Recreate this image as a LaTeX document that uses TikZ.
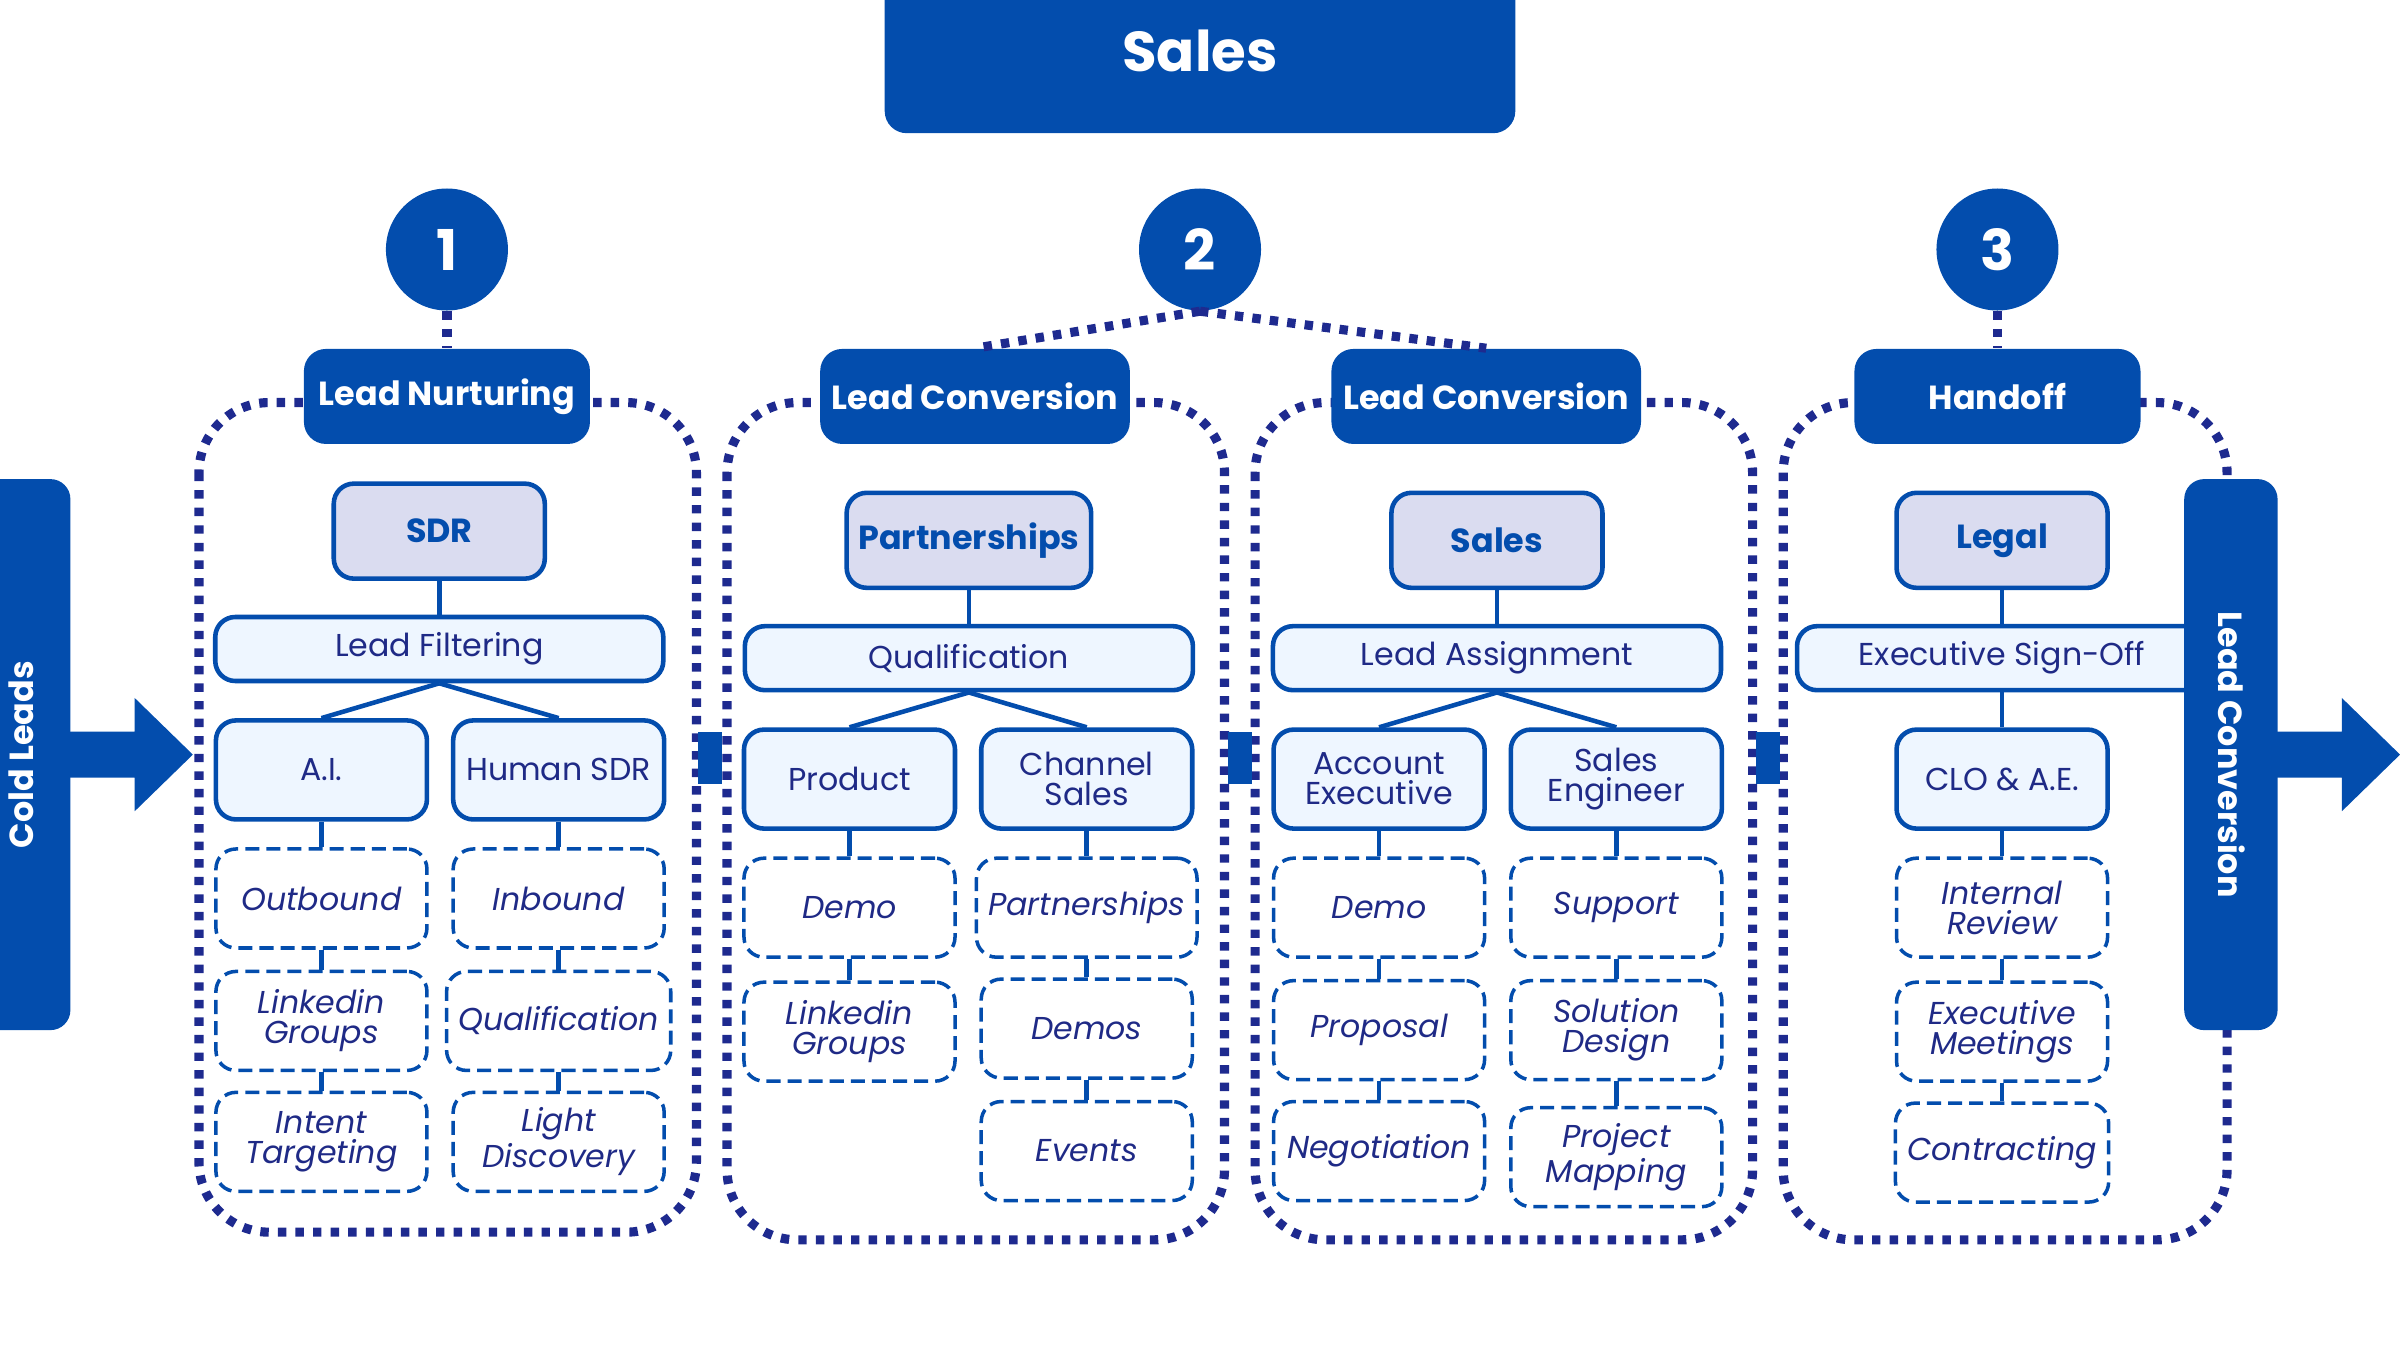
\documentclass[tikz,border=0pt]{standalone}
\usepackage{fontspec}
\setmainfont{Poppins}
\definecolor{salesblue}{HTML}{034DAD}
\definecolor{navy}{HTML}{1F2A86}
\definecolor{dotnavy}{HTML}{1E2A8F}
\definecolor{lavender}{HTML}{DADCF0}
\definecolor{icefill}{HTML}{EEF6FF}
\tikzset{
  panel/.style={draw=dotnavy, line width=2.6pt, dash pattern=on 2.4pt off 2.6pt, rounded corners=0.7cm},
  header/.style={fill=salesblue, rounded corners=0.22cm, minimum width=2.86cm, minimum height=0.95cm, text=white, font=\fontsize{9.5}{11}\selectfont\bfseries},
  stepnum/.style={circle, fill=salesblue, minimum size=1.22cm, text=white, font=\fontsize{16}{18}\selectfont\bfseries},
  rolebox/.style={draw=salesblue, line width=1.3pt, fill=lavender, rounded corners=0.2cm, minimum width=2.11cm, minimum height=0.95cm, text=salesblue, font=\fontsize{9.5}{11}\selectfont\bfseries},
  widebar/.style={draw=salesblue, line width=1.3pt, fill=icefill, rounded corners=0.2cm, minimum width=4.48cm, minimum height=0.64cm, text=navy, font=\fontsize{9}{10}\selectfont},
  subbox/.style={draw=salesblue, line width=1.3pt, fill=icefill, rounded corners=0.2cm, minimum width=2.11cm, minimum height=0.99cm, text=navy, align=center, font=\fontsize{9}{8.5}\selectfont},
  taskbox/.style={draw=salesblue, line width=1pt, dash pattern=on 4pt off 2pt, rounded corners=0.2cm, minimum width=2.11cm, minimum height=0.99cm, text=navy, align=center, font=\fontsize{9}{8.5}\selectfont\itshape},
  link/.style={draw=salesblue, line width=1.3pt},
  dotlink/.style={draw=dotnavy, line width=2.6pt, dash pattern=on 2.4pt off 2.6pt},
  sidebar/.style={fill=salesblue, rounded corners=0.2cm}
}
\begin{document}
\begin{tikzpicture}[x=0.0153cm, y=-0.0153cm]
\useasboundingbox (0,0) rectangle (1568,882);

% title
\fill[salesblue, rounded corners=0.22cm] (578,-20) rectangle (990,87);
\node[text=white, font=\fontsize{16}{18}\selectfont\bfseries] (title) at (784,33) {Sales};

% panels
\draw[panel] (130,263) rectangle (455,805);
\draw[panel] (475,263) rectangle (800,810);
\draw[panel] (820,263) rectangle (1145,810);
\draw[panel] (1165,263) rectangle (1455,810);

% small joints between panels
\fill[salesblue] (456,478) rectangle (472,512);
\fill[salesblue] (802,478) rectangle (818,512);
\fill[salesblue] (1147,478) rectangle (1163,512);

% step circles and headers
\node[stepnum] (n1) at (292,163) {1};
\node[stepnum] (n2) at (784,163) {2};
\node[stepnum] (n3) at (1305,163) {3};
\node[header] (h1) at (292,259) {Lead Nurturing};
\node[header] (h2) at (637,259) {Lead Conversion};
\node[header] (h3) at (971,259) {Lead Conversion};
\node[header] (h4) at (1305,259) {Handoff};
\draw[dotlink] (n1.south) -- (h1.north);
\draw[dotlink] (n2.south) -- (h2.north);
\draw[dotlink] (n2.south) -- (h3.north);
\draw[dotlink] (n3.south) -- (h4.north);

% panel 1
\node[rolebox] (sdr) at (287,347) {SDR};
\node[widebar] (filt) at (287,424) {Lead Filtering};
\node[subbox] (ai) at (210,503) {A.I.};
\node[subbox] (human) at (365,503) {Human SDR};
\node[taskbox] (outb) at (210,587) {Outbound};
\node[taskbox] (link1) at (210,667) {Linkedin\\Groups};
\node[taskbox] (intent) at (210,746) {Intent\\Targeting};
\node[taskbox] (inb) at (365,587) {Inbound};
\node[taskbox] (qual1) at (365,667) {Qualification};
\node[taskbox] (light) at (365,746) {Light\\Discovery};
\draw[link] (sdr) -- (filt);
\draw[link] (filt.south) -- (ai.north);
\draw[link] (filt.south) -- (human.north);
\draw[link] (ai) -- (outb); \draw[link] (outb) -- (link1); \draw[link] (link1) -- (intent);
\draw[link] (human) -- (inb); \draw[link] (inb) -- (qual1); \draw[link] (qual1) -- (light);

% panel 2
\node[rolebox] (part) at (633,353) {Partnerships};
\node[widebar] (qual) at (633,430) {Qualification};
\node[subbox] (prod) at (555,509) {Product};
\node[subbox] (chan) at (710,509) {Channel\\Sales};
\node[taskbox] (demo2) at (555,593) {Demo};
\node[taskbox] (link2) at (555,674) {Linkedin\\Groups};
\node[taskbox] (part2) at (710,593) {Partnerships};
\node[taskbox] (demos) at (710,672) {Demos};
\node[taskbox] (events) at (710,752) {Events};
\draw[link] (part) -- (qual);
\draw[link] (qual.south) -- (prod.north);
\draw[link] (qual.south) -- (chan.north);
\draw[link] (prod) -- (demo2); \draw[link] (demo2) -- (link2);
\draw[link] (chan) -- (part2); \draw[link] (part2) -- (demos); \draw[link] (demos) -- (events);

% panel 3
\node[rolebox] (sales) at (978,353) {Sales};
\node[widebar] (assign) at (978,430) {Lead Assignment};
\node[subbox] (acct) at (901,509) {Account\\Executive};
\node[subbox] (eng) at (1056,509) {Sales\\Engineer};
\node[taskbox] (demo3) at (901,593) {Demo};
\node[taskbox] (prop) at (901,673) {Proposal};
\node[taskbox] (nego) at (901,752) {Negotiation};
\node[taskbox] (supp) at (1056,593) {Support};
\node[taskbox] (sol) at (1056,673) {Solution\\Design};
\node[taskbox] (proj) at (1056,756) {Project\\Mapping};
\draw[link] (sales) -- (assign);
\draw[link] (assign.south) -- (acct.north);
\draw[link] (assign.south) -- (eng.north);
\draw[link] (acct) -- (demo3); \draw[link] (demo3) -- (prop); \draw[link] (prop) -- (nego);
\draw[link] (eng) -- (supp); \draw[link] (supp) -- (sol); \draw[link] (sol) -- (proj);

% panel 4
\node[rolebox] (legal) at (1308,353) {Legal};
\node[widebar, minimum width=4.1cm] (sign) at (1308,430) {Executive Sign-Off};
\node[subbox] (clo) at (1308,509) {CLO \& A.E.};
\node[taskbox] (intrev) at (1308,593) {Internal\\Review};
\node[taskbox] (meet) at (1308,674) {Executive\\Meetings};
\node[taskbox] (contr) at (1308,753) {Contracting};
\draw[link] (legal) -- (sign);
\draw[link] (sign) -- (clo);
\draw[link] (clo) -- (intrev); \draw[link] (intrev) -- (meet); \draw[link] (meet) -- (contr);

% side bars with arrows
\fill[sidebar] (-20,313) rectangle (46,673);
\node[rotate=90, text=white, font=\fontsize{9.5}{11}\selectfont\bfseries] (cold) at (14,493) {Cold Leads};
\fill[salesblue] (40,478) -- (88,478) -- (88,456) -- (126,493) -- (88,530) -- (88,508) -- (40,508) -- cycle;
\fill[sidebar] (1427,313) rectangle (1488,673);
\node[rotate=-90, text=white, font=\fontsize{9.5}{11}\selectfont\bfseries] (conv) at (1458,493) {Lead Conversion};
\fill[salesblue] (1484,478) -- (1530,478) -- (1530,456) -- (1568,493) -- (1530,530) -- (1530,508) -- (1484,508) -- cycle;
\end{tikzpicture}
\end{document}
